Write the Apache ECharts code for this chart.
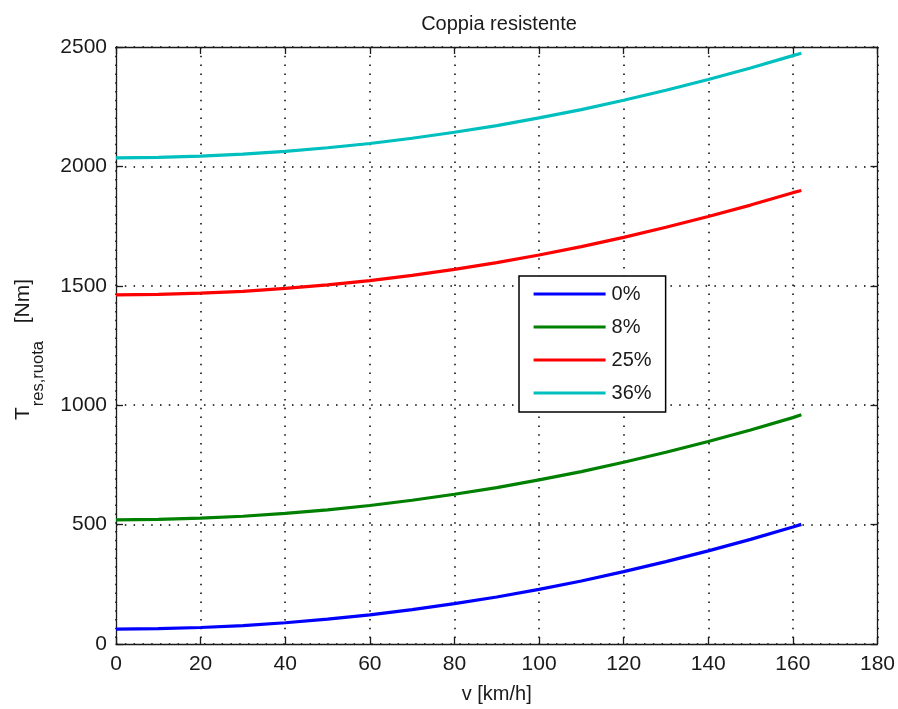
<!DOCTYPE html>
<html>
<head>
<meta charset="utf-8">
<script src="https://cdn.jsdelivr.net/npm/echarts@6/dist/echarts.min.js"></script>
<style>
  html, body { margin: 0; padding: 0; background: #fff; }
  #chart { width: 898px; height: 709px; }
</style>
</head>
<body>
<div id="chart"></div>
<script>
// Vehicle speed samples [km/h]
const speeds = [0, 10, 20, 30, 40, 50, 60, 70, 80, 90, 100, 110, 120, 130, 140, 150, 160, 162];

// Resisting torque at the wheel [Nm] for each road grade
const torque0  = [62, 64, 69, 77, 89, 104, 122, 144, 169, 197, 229, 264, 303, 345, 390, 438, 490, 501];
const torque8  = [520, 522, 527, 535, 547, 562, 580, 602, 627, 655, 687, 722, 761, 803, 848, 896, 948, 960];
const torque25 = [1462, 1464, 1469, 1477, 1489, 1504, 1522, 1544, 1569, 1597, 1629, 1664, 1703, 1745, 1790, 1838, 1890, 1899];
const torque36 = [2036, 2038, 2043, 2051, 2063, 2078, 2096, 2118, 2143, 2171, 2203, 2238, 2277, 2319, 2364, 2412, 2464, 2474];

const gradeNames = ['0%', '8%', '25%', '36%'];
const xTicks = [0, 20, 40, 60, 80, 100, 120, 140, 160, 180];
const yTicks = [0, 500, 1000, 1500, 2000, 2500];

const FONT = '"Liberation Sans", Arial, Helvetica, sans-serif';
const INK = '#1a1a1a';

const seriesData = [torque0, torque8, torque25, torque36];
const colors = ['#0000ff', '#008000', '#ff0000', '#00bfbf'];

const chart = echarts.init(document.getElementById('chart'), null, { renderer: 'canvas' });

// Plain numbers on the axes, no thousands separators
const plain = (v) => String(v);

const boxAxis = (extra) => Object.assign({
  type: 'value',
  axisLine: { show: true, onZero: false, lineStyle: { color: INK, width: 1.3 } },
  axisTick: { show: true, inside: true, length: 7, lineStyle: { color: INK, width: 1.3 } },
  axisLabel: { show: false },
  splitLine: { show: false }
}, extra);

const dotted = { color: '#000', width: 1.5, type: [1.5, 7.3] };

chart.setOption({
  animation: false,
  backgroundColor: '#fff',
  title: {
    text: 'Coppia resistente',
    left: 494,
    textAlign: 'center',
    top: 9,
    textStyle: { fontFamily: FONT, fontSize: 20, fontWeight: 'normal', color: INK }
  },
  grid: { left: 116, right: 19, top: 47, bottom: 63, containLabel: false },
  legend: {
    data: gradeNames,
    orient: 'vertical',
    left: 519,
    top: 276,
    padding: [8, 14, 9, 13],
    itemWidth: 72,
    itemHeight: 20,
    itemGap: 13,
    backgroundColor: '#fff',
    borderColor: '#000',
    borderWidth: 1.5,
    borderRadius: 0,
    itemStyle: { opacity: 0 },
    lineStyle: { width: 3.2 },
    textStyle: { fontFamily: FONT, fontSize: 20, color: INK, padding: [0, 0, 0, 1] }
  },
  xAxis: [
    boxAxis({
      position: 'bottom',
      min: xTicks[0],
      max: xTicks[xTicks.length - 1],
      interval: xTicks[1] - xTicks[0],
      name: 'v [km/h]',
      nameLocation: 'middle',
      nameGap: 40,
      nameTextStyle: { fontFamily: FONT, fontSize: 20, color: INK },
      axisLabel: { show: true, margin: 10, fontFamily: FONT, fontSize: 21, color: INK, formatter: plain },
      splitLine: { show: true, lineStyle: dotted }
    }),
    boxAxis({
      position: 'top',
      min: xTicks[0],
      max: xTicks[xTicks.length - 1],
      interval: xTicks[1] - xTicks[0]
    })
  ],
  yAxis: [
    boxAxis({
      position: 'left',
      min: yTicks[0],
      max: yTicks[yTicks.length - 1],
      interval: yTicks[1] - yTicks[0],
      name: '{t|T}{s|res,ruota}{t| [Nm]}',
      nameLocation: 'middle',
      nameGap: 69,
      nameTextStyle: {
        fontFamily: FONT,
        color: INK,
        padding: [0, 8, 0, 0],
        rich: {
          t: { fontFamily: FONT, fontSize: 21, color: INK, lineHeight: 34, verticalAlign: 'top' },
          s: { fontFamily: FONT, fontSize: 16.5, color: INK, lineHeight: 34, verticalAlign: 'bottom', padding: [0, 12, 0, 1] }
        }
      },
      axisLabel: { show: true, margin: 9, fontFamily: FONT, fontSize: 21, color: INK, formatter: plain },
      splitLine: { show: true, lineStyle: dotted }
    }),
    boxAxis({
      position: 'right',
      min: yTicks[0],
      max: yTicks[yTicks.length - 1],
      interval: yTicks[1] - yTicks[0]
    })
  ],
  series: seriesData.map((vals, i) => ({
    name: gradeNames[i],
    type: 'line',
    xAxisIndex: 0,
    yAxisIndex: 0,
    symbol: 'none',
    showSymbol: false,
    smooth: false,
    color: colors[i],
    lineStyle: { color: colors[i], width: 3.2 },
    data: speeds.map((v, k) => [v, vals[k]])
  }))
});
</script>
</body>
</html>
